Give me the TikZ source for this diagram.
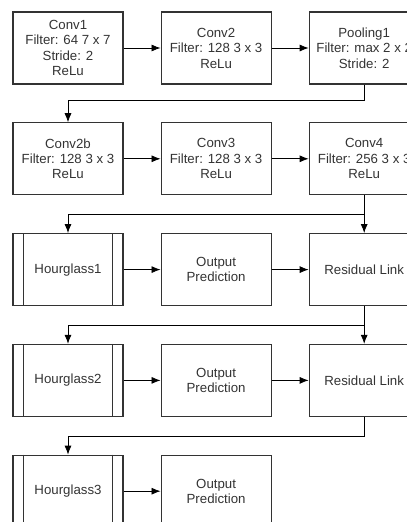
\documentclass[tikz,border=0pt]{standalone}
\usepackage{fontspec}
\setmainfont{Liberation Sans}
\usetikzlibrary{positioning,arrows.meta}
\tikzset{
  block/.style={draw=black!80, line width=1.1pt, minimum width=110bp, minimum height=72bp,
    inner sep=0pt, align=center, text=black!80, font=\fontsize{13.3}{15.5}\selectfont},
  link/.style={-{Latex[length=9bp,width=7bp]}, line width=0.8pt, black}
}
\begin{document}
\begin{tikzpicture}[node distance=37.7bp and 37bp]
      \def\barw{11bp};
      \useasboundingbox (0,0) rectangle (407bp,-522bp);
      \clip (0,0) rectangle (407bp,-522bp);
      % first row
      \node[block] (conv1) at (68bp,-48bp) {Conv1\\Filter: 64 7 x 7\\Stride: 2\\ReLu};
      \node[block, right=of conv1] (conv2) {Conv2\\Filter: 128 3 x 3\\ReLu};
      \node[block, right=of conv2] (pool1) {Pooling1\\Filter: max 2 x 2\\Stride: 2};
      % second row
      \node[block, below=of conv1] (conv2b) {Conv2b\\Filter: 128 3 x 3\\ReLu};
      \node[block, right=of conv2b] (conv3) {Conv3\\Filter: 128 3 x 3\\ReLu};
      \node[block, right=of conv3] (conv4) {Conv4\\Filter: 256 3 x 3\\ReLu};
      % stacked hourglasses
      \node[block, below=of conv2b] (hg1) {Hourglass1};
      \node[block, right=of hg1] (out1) {Output\\Prediction};
      \node[block, right=of out1] (res1) {Residual Link};
      \node[block, below=of hg1] (hg2) {Hourglass2};
      \node[block, right=of hg2] (out2) {Output\\Prediction};
      \node[block, right=of out2] (res2) {Residual Link};
      \node[block, below=of hg2] (hg3) {Hourglass3};
      \node[block, right=of hg3] (out3) {Output\\Prediction};
      \foreach \h in {hg1,hg2,hg3} {
        \draw[black!80, line width=1.1pt] ([xshift=\barw]\h.north west) -- ([xshift=\barw]\h.south west);
        \draw[black!80, line width=1.1pt] ([xshift=-\barw]\h.north east) -- ([xshift=-\barw]\h.south east);
      }
      % arrows
      \draw[link] (conv1) -- (conv2);
      \draw[link] (conv2) -- (pool1);
      \draw[link] (pool1.south) -- ++(0,-16bp) -| (conv2b.north);
      \draw[link] (conv2b) -- (conv3);
      \draw[link] (conv3) -- (conv4);
      \draw[link] (conv4.south) -- ++(0,-19bp) coordinate (j1) -| (hg1.north);
      \draw[link] (j1) -- (res1.north);
      \draw[link] (hg1) -- (out1);
      \draw[link] (out1) -- (res1);
      \draw[link] (res1.south) -- ++(0,-19bp) coordinate (j2) -| (hg2.north);
      \draw[link] (j2) -- (res2.north);
      \draw[link] (hg2) -- (out2);
      \draw[link] (out2) -- (res2);
      \draw[link] (res2.south) -- ++(0,-19bp) -| (hg3.north);
      \draw[link] (hg3) -- (out3);
    \end{tikzpicture}
\end{document}
